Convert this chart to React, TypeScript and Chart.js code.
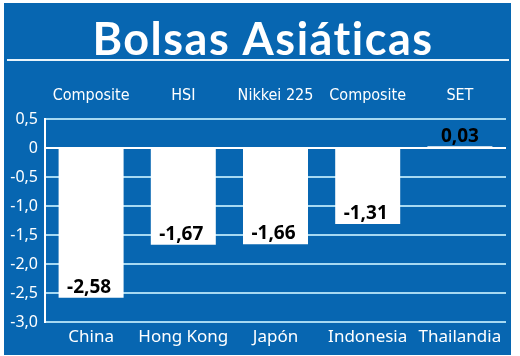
import React, { useEffect, useRef } from "react";
import { Chart, registerables } from "chart.js";

Chart.register(...registerables);

const countries = ["China", "Hong Kong", "Japón", "Indonesia", "Thailandia"];
const indexNames = ["Composite", "HSI", "Nikkei 225", "Composite", "SET"];
const changes = [-2.58, -1.67, -1.66, -1.31, 0.03];
const titleText = "Bolsas Asiáticas";

const BLUE = "#0766b1";
const GRID = "#a6d9f2";

const fmt = (v: number, d: number) => (v === 0 ? "0" : v.toFixed(d).replace(".", ","));

const framePlugin = {
  id: "frame",
  beforeDraw(chart: any) {
    const ctx = chart.ctx;
    ctx.save();
    ctx.fillStyle = "#ffffff";
    ctx.fillRect(0, 0, chart.width, chart.height);
    ctx.fillStyle = BLUE;
    ctx.fillRect(4, 3, 507, 352);
    ctx.fillStyle = "#e8f4fb";
    ctx.fillRect(7, 59, 502, 2);
    ctx.fillStyle = "#ffffff";
    ctx.font = "bold 45px Lato";
    (ctx as any).letterSpacing = "1.5px";
    ctx.textAlign = "center";
    ctx.textBaseline = "alphabetic";
    ctx.fillText(titleText, 263, 55);
    ctx.restore();
  },
};

const valueLabels = {
  id: "valueLabels",
  afterDatasetsDraw(chart: any) {
    const ctx = chart.ctx;
    const meta = chart.getDatasetMeta(0);
    ctx.save();
    ctx.fillStyle = "#000000";
    ctx.font = "bold 19px 'Noto Sans'";
    ctx.textAlign = "center";
    ctx.textBaseline = "alphabetic";
    meta.data.forEach((bar: any, i: number) => {
      const v = changes[i];
      const txt = fmt(v, 2);
      if (v < 0) {
        ctx.fillText(txt, bar.x - 2, bar.y - 5);
      } else {
        ctx.fillText(txt, bar.x, bar.y - 4);
      }
    });
    ctx.restore();
  },
};

export default function App() {
  const ref = useRef<HTMLCanvasElement | null>(null);
  useEffect(() => {
    document.body.style.margin = "0";
    if (!ref.current) return;
    const chart = new Chart(ref.current, {
      type: "bar",
      data: {
        labels: countries,
        datasets: [
          {
            data: changes,
            backgroundColor: "#ffffff",
            borderWidth: 0,
            barPercentage: 0.705,
            categoryPercentage: 1,
            xAxisID: "x",
          },
        ],
      },
      options: {
        responsive: false,
        animation: false,
        devicePixelRatio: 1,
        layout: { padding: { left: 0, right: 14, top: 0, bottom: 0 } },
        plugins: { legend: { display: false }, tooltip: { enabled: false }, title: { display: false } },
        scales: {
          x: {
            type: "category",
            position: "bottom",
            grid: { display: false, drawTicks: false },
            border: { display: false },
            ticks: { color: "#ffffff", font: { family: "'Noto Sans'", size: 17 }, padding: 5, maxRotation: 0, autoSkip: false },
            afterFit(scale: any) {
              scale.height = 34;
            },
          },
          xTop: {
            type: "category",
            position: "top",
            labels: indexNames,
            grid: { display: false, drawTicks: false },
            border: { display: false },
            ticks: { color: "#ffffff", font: { family: "'Liberation Sans Narrow', 'DejaVu Sans Condensed', sans-serif", size: 16 }, padding: 14, maxRotation: 0, autoSkip: false },
            afterFit(scale: any) {
              scale.height = 119;
            },
          },
          y: {
            min: -3,
            max: 0.5,
            ticks: {
              stepSize: 0.5,
              color: "#ffffff",
              font: { family: "'Noto Sans'", size: 16 },
              padding: 7,
              callback: (v: any) => fmt(Number(v), Number(v) === 0 ? 0 : 1),
            },
            grid: {
              drawTicks: false,
              lineWidth: 2,
              color: (c: any) => (c.tick && c.tick.value === 0 ? "#ffffff" : GRID),
            },
            border: { display: true, color: "#ffffff", width: 2 },
            afterFit(scale: any) {
              scale.width = 45;
            },
          },
        },
      },
      plugins: [framePlugin, valueLabels],
    } as any);
    return () => chart.destroy();
  }, []);
  return <canvas ref={ref} width={520} height={356} style={{ display: "block", width: 520, height: 356 }} />;
}
